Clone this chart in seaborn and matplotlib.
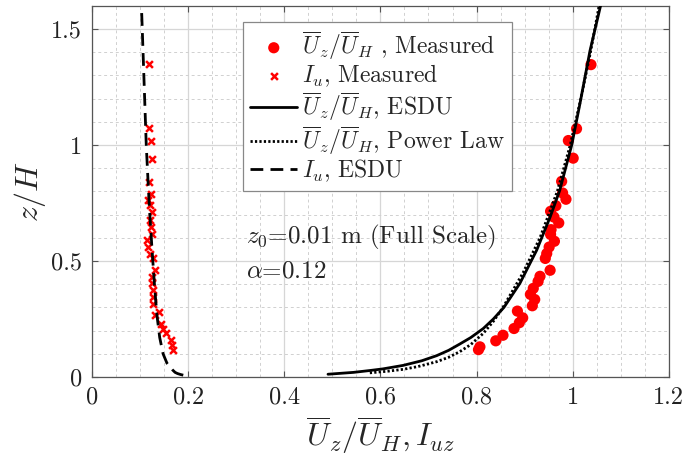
import matplotlib
matplotlib.use("Agg")
import matplotlib.pyplot as plt
import seaborn as sns
from matplotlib.ticker import MultipleLocator

# ---------------- data ----------------
z_meas = [1.346, 1.070, 1.019, 0.943, 0.843, 0.793, 0.766, 0.738, 0.714, 0.689,
          0.664, 0.635, 0.614, 0.585, 0.560, 0.532, 0.511, 0.460, 0.434, 0.412,
          0.382, 0.356, 0.334, 0.307, 0.284, 0.255, 0.234, 0.209, 0.180, 0.156,
          0.130, 0.118]
uz_meas = [1.038, 1.008, 0.991, 1.001, 0.977, 0.979, 0.986, 0.965, 0.954, 0.961,
           0.971, 0.955, 0.954, 0.962, 0.951, 0.946, 0.943, 0.953, 0.932, 0.928,
           0.918, 0.912, 0.921, 0.916, 0.885, 0.896, 0.889, 0.878, 0.855, 0.840,
           0.807, 0.804]

z_iu = [1.349, 1.072, 1.019, 0.941, 0.840, 0.790, 0.761, 0.740, 0.711, 0.675,
        0.646, 0.618, 0.589, 0.560, 0.532, 0.511, 0.460, 0.431, 0.403, 0.374,
        0.345, 0.314, 0.281, 0.267, 0.228, 0.205, 0.188, 0.159, 0.138, 0.116]
iu_meas = [0.118, 0.119, 0.122, 0.125, 0.119, 0.122, 0.116, 0.121, 0.124, 0.121,
           0.122, 0.124, 0.115, 0.117, 0.121, 0.126, 0.132, 0.124, 0.125, 0.128,
           0.126, 0.128, 0.140, 0.131, 0.144, 0.147, 0.155, 0.164, 0.166, 0.168]

z_esdu = [0.012, 0.020, 0.028, 0.035, 0.050, 0.070, 0.092, 0.115, 0.142, 0.170,
          0.209, 0.250, 0.300, 0.403, 0.546, 0.689, 0.804, 1.000, 1.177, 1.406,
          1.600]
uz_esdu = [0.491, 0.544, 0.578, 0.605, 0.647, 0.686, 0.717, 0.742, 0.765, 0.788,
           0.814, 0.835, 0.857, 0.890, 0.925, 0.953, 0.973, 0.998, 1.015, 1.036,
           1.058]

z_pow = [0.018, 0.025, 0.033, 0.045, 0.066, 0.085, 0.109, 0.140, 0.188, 0.240,
         0.300, 0.450, 0.600, 0.800, 1.000, 1.200, 1.400, 1.600]
uz_pow = [0.578, 0.615, 0.647, 0.678, 0.717, 0.742, 0.765, 0.788, 0.814, 0.835,
          0.855, 0.897, 0.932, 0.968, 0.995, 1.017, 1.037, 1.055]

z_iu_esdu = [0.008, 0.011, 0.015, 0.020, 0.030, 0.060, 0.100, 0.170, 0.270, 0.400,
             0.550, 0.750, 1.000, 1.300, 1.600]
iu_esdu = [0.190, 0.184, 0.178, 0.173, 0.168, 0.156, 0.148, 0.141, 0.135, 0.130,
           0.125, 0.119, 0.113, 0.108, 0.103]

x_ticks = [0, 0.2, 0.4, 0.6, 0.8, 1.0, 1.2]
x_tick_labels = ["0", "0.2", "0.4", "0.6", "0.8", "1", "1.2"]
y_ticks = [0, 0.5, 1.0, 1.5]
y_tick_labels = ["0", "0.5", "1", "1.5"]

labels = [r"$\overline{U}_z/\overline{U}_H$ , Measured",
          r"$I_u$, Measured",
          r"$\overline{U}_z/\overline{U}_H$, ESDU",
          r"$\overline{U}_z/\overline{U}_H$, Power Law",
          r"$I_u$, ESDU"]

# ---------------- style ----------------
sns.set_style("ticks")
plt.rcParams["font.family"] = ["cmr10", "DejaVu Serif"]
plt.rcParams["mathtext.fontset"] = "cm"
plt.rcParams["axes.formatter.use_mathtext"] = True
plt.rcParams["axes.unicode_minus"] = False

fig = plt.figure(figsize=(6.86, 4.59), dpi=100)
ax = fig.add_axes([0.134, 0.1786, 0.841, 0.809])

spine_c = "#555555"
ax.set_xlim(0, 1.2)
ax.set_ylim(0, 1.6)
ax.xaxis.set_minor_locator(MultipleLocator(0.05))
ax.yaxis.set_minor_locator(MultipleLocator(0.1))
ax.grid(True, which="major", color="#d6d6d6", lw=0.9, ls="-")
ax.grid(True, which="minor", color="#d0d0d0", lw=0.7, ls=(0, (3, 3)))
ax.set_axisbelow(True)

red = "#ff0000"
sns.scatterplot(x=uz_meas, y=z_meas, ax=ax, color=red, marker="o", s=65,
                edgecolor="none", label=labels[0], zorder=3)
sns.scatterplot(x=iu_meas, y=z_iu, ax=ax, color=red, marker="x", s=24,
                linewidth=1.8, label=labels[1], zorder=3)
sns.lineplot(x=uz_esdu, y=z_esdu, ax=ax, sort=False, estimator=None, color="k",
             lw=2.0, label=labels[2], zorder=4)
sns.lineplot(x=uz_pow, y=z_pow, ax=ax, sort=False, estimator=None, color="k",
             lw=2.0, ls=(0, (0.8, 0.8)), label=labels[3], zorder=4)
sns.lineplot(x=iu_esdu, y=z_iu_esdu, ax=ax, sort=False, estimator=None, color="k",
             lw=2.0, ls=(0, (4.6, 2.6)), label=labels[4], zorder=4)

ax.set_xticks(x_ticks)
ax.set_xticklabels(x_tick_labels)
ax.set_yticks(y_ticks)
ax.set_yticklabels(y_tick_labels)
ax.tick_params(which="major", direction="in", top=True, right=True, length=4,
               width=0.8, color=spine_c, labelsize=17.5, pad=7, labelcolor="#222222")
ax.tick_params(which="minor", length=0, top=True, right=True)
for s in ax.spines.values():
    s.set_color(spine_c)
    s.set_linewidth(0.9)

ax.set_xlabel(r"$\overline{U}_z/\overline{U}_H, I_{uz}$", fontsize=23, labelpad=4)
ax.set_ylabel(r"$z/H$", fontsize=23, labelpad=2)

ax.text(0.32, 0.60, r"$z_0$=0.01 m (Full Scale)", fontsize=18, va="center",
        ha="left")
ax.text(0.32, 0.453, r"$\alpha$=0.12", fontsize=18, va="center", ha="left")

handles, labs = ax.get_legend_handles_labels()
leg = ax.legend(handles, labs, loc="upper left", bbox_to_anchor=(0.262, 0.956),
                borderaxespad=0, fontsize=17, frameon=True, fancybox=False,
                framealpha=1, edgecolor="#888888", handlelength=2.0,
                handletextpad=0.2, labelspacing=0.04, borderpad=0.3)
leg.get_frame().set_linewidth(0.9)

fig.savefig("out.png", dpi=100)
